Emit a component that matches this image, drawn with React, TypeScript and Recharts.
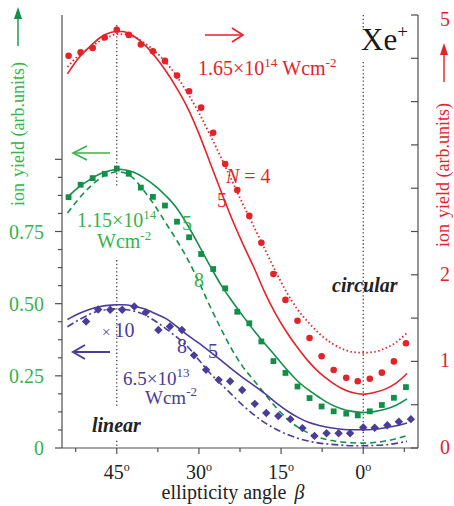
import { ComposedChart, Line, Scatter, XAxis, YAxis, ReferenceLine } from "recharts"

const W = 454
const H = 506
const SERIF = "'Liberation Serif', 'Times New Roman', serif"

const RED = "#e3222a"
const GREEN = "#12904a"
const GREEN_LIGHT = "#36b34a"
const PURPLE = "#4a3c98"
const AXIS = "#4f4f4f"
const GUIDE = "#333333"

// measured Xe+ yields, ellipticity angle in degrees
const betaMeasured = [53.8, 51.6, 49.4, 47.2, 45.0, 42.8, 40.6, 38.4, 36.2, 34.0, 31.8, 29.6, 27.4, 25.2, 23.0, 20.8, 18.6, 16.4, 14.2, 12.0, 9.8, 7.6, 5.4, 3.1, 1.0, -1.2, -3.4, -5.6, -7.8]
// 1.65e14 W/cm2 (right axis)
const yieldHigh = [4.53, 4.57, 4.62, 4.74, 4.83, 4.77, 4.66, 4.58, 4.47, 4.30, 4.12, 3.93, 3.64, 3.28, 2.98, 2.68, 2.37, 2.01, 1.71, 1.47, 1.27, 1.06, 0.90, 0.81, 0.77, 0.80, 0.87, 1.00, 1.21]
// 1.15e14 W/cm2 (left axis)
const yieldMid = [0.869, 0.912, 0.935, 0.950, 0.968, 0.950, 0.902, 0.870, 0.840, 0.784, 0.730, 0.672, 0.620, 0.553, 0.472, 0.432, 0.369, 0.301, 0.260, 0.213, 0.173, 0.144, 0.127, 0.119, 0.113, 0.127, 0.149, 0.174, 0.211]
// 6.5e13 W/cm2, scaled x10 (left axis)
const betaLow = [50.6, 48.4, 46.2, 44.0, 41.8, 39.7, 37.4, 35.3, 33.1, 30.9, 28.7, 26.4, 24.3, 22.1, 19.8, 17.7, 15.5, 13.3, 11.1, 8.9, 6.7, 4.5, 2.4, 0.0, -2.1, -4.4, -6.5, -8.7]
const yieldLow = [0.438, 0.480, 0.479, 0.479, 0.490, 0.470, 0.409, 0.421, 0.409, 0.321, 0.271, 0.236, 0.231, 0.201, 0.153, 0.121, 0.111, 0.100, 0.069, 0.042, 0.051, 0.051, 0.051, 0.071, 0.070, 0.079, 0.091, 0.100]

// calculated curves for N-photon ionization
const betaCalc = [54, 52, 50, 48, 46, 45, 44, 42, 40, 38, 36, 34, 32, 30, 28, 26, 24, 22, 20, 18, 16, 14, 12, 10, 8, 6, 4, 2, 0, -2, -4, -6, -8]
const calcHigh5 = [4.32, 4.50, 4.63, 4.74, 4.80, 4.81, 4.81, 4.76, 4.66, 4.52, 4.35, 4.15, 3.92, 3.63, 3.30, 2.97, 2.65, 2.36, 2.09, 1.80, 1.55, 1.34, 1.16, 1.00, 0.87, 0.77, 0.69, 0.64, 0.62, 0.64, 0.68, 0.75, 0.86]
const calcHigh4 = [4.40, 4.53, 4.62, 4.70, 4.76, 4.78, 4.78, 4.75, 4.68, 4.58, 4.45, 4.29, 4.09, 3.87, 3.62, 3.36, 3.09, 2.82, 2.56, 2.30, 2.04, 1.80, 1.60, 1.45, 1.32, 1.22, 1.15, 1.11, 1.10, 1.11, 1.15, 1.22, 1.33]
const calcMid5 = [0.869, 0.903, 0.929, 0.950, 0.962, 0.966, 0.965, 0.956, 0.936, 0.908, 0.873, 0.830, 0.770, 0.702, 0.632, 0.566, 0.510, 0.458, 0.408, 0.362, 0.318, 0.273, 0.232, 0.201, 0.175, 0.152, 0.136, 0.127, 0.123, 0.126, 0.134, 0.148, 0.170]
const calcMid8 = [0.814, 0.862, 0.903, 0.935, 0.953, 0.957, 0.955, 0.935, 0.890, 0.838, 0.778, 0.718, 0.652, 0.575, 0.492, 0.414, 0.342, 0.282, 0.235, 0.188, 0.142, 0.103, 0.073, 0.052, 0.036, 0.027, 0.021, 0.018, 0.017, 0.019, 0.024, 0.032, 0.043]
const calcLow5 = [0.445, 0.465, 0.480, 0.490, 0.495, 0.496, 0.496, 0.492, 0.482, 0.466, 0.448, 0.420, 0.390, 0.363, 0.334, 0.304, 0.273, 0.244, 0.217, 0.189, 0.158, 0.130, 0.107, 0.089, 0.078, 0.070, 0.065, 0.063, 0.063, 0.065, 0.070, 0.077, 0.087]
const calcLow8 = [0.420, 0.443, 0.463, 0.476, 0.481, 0.482, 0.481, 0.475, 0.462, 0.440, 0.413, 0.383, 0.350, 0.305, 0.260, 0.222, 0.185, 0.148, 0.116, 0.088, 0.066, 0.048, 0.034, 0.024, 0.017, 0.013, 0.010, 0.008, 0.008, 0.009, 0.011, 0.016, 0.023]

const betaTicks = [52.5, 45, 37.5, 30, 22.5, 15, 7.5, 0, -7.5]
const leftTicks = [0, 0.0625, 0.125, 0.1875, 0.25, 0.3125, 0.375, 0.4375, 0.5, 0.5625, 0.625, 0.6875, 0.75, 0.8125, 0.875, 0.9375, 1]
const leftLabels = ["0", "0.25", "0.50", "0.75"]
const rightTicks = [0, 0.5, 1, 1.5, 2, 2.5, 3, 3.5, 4, 4.5, 5]
const rightLabels = [0, 1, 2, 5]

const curveRows = betaCalc.map((beta, i) => ({
  beta,
  high5: calcHigh5[i],
  high4: calcHigh4[i],
  mid5: calcMid5[i],
  mid8: calcMid8[i],
  low5: calcLow5[i],
  low8: calcLow8[i],
}))
const highPoints = betaMeasured.map((beta, i) => ({ beta, v: yieldHigh[i] }))
const midPoints = betaMeasured.map((beta, i) => ({ beta, v: yieldMid[i] }))
const lowPoints = betaLow.map((beta, i) => ({ beta, v: yieldLow[i] }))

const BetaTick = ({ x, y, payload }: any) => {
  const major = payload.value % 15 === 0
  return (
    <g>
      <line x1={x} y1={y} x2={x} y2={y + (major ? 6 : 4)} stroke={AXIS} strokeWidth={1.2} />
      {major && (
        <text x={x} y={y + 31} textAnchor="middle" fontFamily={SERIF} fontSize={20} fill="#222">
          {Math.abs(payload.value)}
          <tspan dy={-8} fontSize={12}>o</tspan>
        </text>
      )}
    </g>
  )
}

const LeftTick = ({ x, y, payload }: any) => {
  const v = payload.value
  const idx = Math.round(v * 4)
  const major = Math.abs(v * 4 - idx) < 1e-6
  return (
    <g>
      <line x1={x - (major ? 7 : 4)} y1={y} x2={x} y2={y} stroke={AXIS} strokeWidth={1.2} />
      {major && idx < leftLabels.length && (
        <text x={x - 18} y={y + 7} textAnchor="end" fontFamily={SERIF} fontSize={20} fill={GREEN_LIGHT}>
          {leftLabels[idx]}
        </text>
      )}
    </g>
  )
}

const RightTick = ({ x, y, payload }: any) => {
  const v = payload.value
  return (
    <g>
      <line x1={x - 7} y1={y} x2={x} y2={y} stroke={AXIS} strokeWidth={1.2} />
      {rightLabels.includes(v) && (
        <text x={x + 27} y={y + (v === 5 ? 11 : 6)} textAnchor="middle" fontFamily={SERIF} fontSize={20} fill={RED}>
          {v}
        </text>
      )}
    </g>
  )
}

const RedDot = ({ cx, cy }: any) => <circle cx={cx} cy={cy} r={3.3} fill={RED} />
const GreenSquare = ({ cx, cy }: any) => <rect x={cx - 2.9} y={cy - 2.9} width={5.8} height={5.8} fill={GREEN} />
const PurpleDiamond = ({ cx, cy }: any) => (
  <path d={`M${cx} ${cy - 4.2}L${cx + 4.2} ${cy}L${cx} ${cy + 4.2}L${cx - 4.2} ${cy}Z`} fill={PURPLE} />
)

function Annotations() {
  const sup = { dy: -8, fontSize: 13 }
  return (
    <svg
      width={W}
      height={H}
      style={{ position: "absolute", left: 0, top: 0, pointerEvents: "none" }}
      fontFamily={SERIF}
    >
      {/* axis titles with arrows */}
      <text x={18} y={134} transform="rotate(-90 18 134)" textAnchor="middle" dominantBaseline="central" fontSize={18} fill={GREEN_LIGHT}>
        ion<tspan dx={6}>yield (arb.units)</tspan>
      </text>
      <line x1={18} y1={46} x2={18} y2={17} stroke={GREEN} strokeWidth={1.4} />
      <path d="M18 7L14 19L22 19Z" fill={GREEN} />

      <text x={443} y={175} transform="rotate(-90 443 175)" textAnchor="middle" dominantBaseline="central" fontSize={18} fill={RED}>
        ion<tspan dx={6}>yield (arb.units)</tspan>
      </text>
      <line x1={444} y1={82} x2={444} y2={53} stroke={RED} strokeWidth={1.4} />
      <path d="M444 43L440 55L448 55Z" fill={RED} />

      {/* red set */}
      <line x1={205} y1={35} x2={242} y2={35} stroke={RED} strokeWidth={1.6} />
      <polyline points="232,28 243,35 232,42" fill="none" stroke={RED} strokeWidth={1.6} />
      <text x={198} y={75} fontSize={20} fill={RED}>
        1.65×10<tspan {...sup}>14</tspan>
        <tspan dx={5} dy={8}>Wcm</tspan>
        <tspan {...sup}>-2</tspan>
      </text>
      <text x={361} y={50} fontSize={31} fill="#1a1a1a">
        Xe<tspan dy={-12} fontSize={19}>+</tspan>
      </text>
      <text x={226} y={183} fontSize={20} fill={RED}>
        <tspan fontStyle="italic">N</tspan> = 4
      </text>
      <text x={217} y={207} fontSize={20} fill={RED}>5</text>

      {/* green set */}
      <line x1={74} y1={153} x2={110} y2={153} stroke={GREEN_LIGHT} strokeWidth={1.6} />
      <polyline points="87,146 73,153 87,160" fill="none" stroke={GREEN_LIGHT} strokeWidth={1.6} />
      <text x={77} y={227} fontSize={20} fill={GREEN_LIGHT}>
        1.15×10<tspan {...sup}>14</tspan>
      </text>
      <text x={97} y={248} fontSize={20} fill={GREEN_LIGHT}>
        Wcm<tspan {...sup}>-2</tspan>
      </text>
      <text x={182} y={230} fontSize={20} fill={GREEN_LIGHT}>5</text>
      <text x={194} y={287} fontSize={20} fill={GREEN_LIGHT}>8</text>

      {/* purple set */}
      <line x1={75} y1={352} x2={110} y2={352} stroke={PURPLE} strokeWidth={2} />
      <polyline points="85,345 73,352 85,359" fill="none" stroke={PURPLE} strokeWidth={2} />
      <text x={102} y={337} fontSize={15} fill={PURPLE}>
        ×<tspan dx={4} fontSize={20}>10</tspan>
      </text>
      <text x={177} y={353} fontSize={20} fill={PURPLE}>8</text>
      <text x={208} y={358} fontSize={20} fill={PURPLE}>5</text>
      <text x={123} y={385} fontSize={19} fill={PURPLE}>
        6.5×10<tspan {...sup}>13</tspan>
      </text>
      <text x={145} y={404} fontSize={19} fill={PURPLE}>
        Wcm<tspan {...sup}>-2</tspan>
      </text>

      {/* polarization labels */}
      <text x={92} y={432} fontSize={20} fontWeight="bold" fontStyle="italic" fill="#222">linear</text>
      <text x={332} y={292} fontSize={20} fontWeight="bold" fontStyle="italic" fill="#222">circular</text>

      <text x={233} y={499} textAnchor="middle" fontSize={20} fill="#222">
        ellipticity angle<tspan dx={8} fontStyle="italic">β</tspan>
      </text>
    </svg>
  )
}

export default function App() {
  return (
    <div style={{ position: "absolute", left: 0, top: 0, width: W, height: H, background: "#fff" }}>
      <ComposedChart width={W} height={H} data={curveRows} margin={{ top: 15, right: 0, bottom: 0, left: 0 }}>
        <XAxis
          xAxisId="b"
          type="number"
          dataKey="beta"
          domain={[-10, 55]}
          reversed
          allowDataOverflow
          ticks={betaTicks}
          interval={0}
          height={58}
          tickSize={0}
          tickMargin={0}
          tickLine={false}
          tick={BetaTick}
          axisLine={{ stroke: AXIS, strokeWidth: 1.2 }}
        />
        <XAxis
          xAxisId="t"
          orientation="top"
          type="number"
          dataKey="beta"
          domain={[-10, 55]}
          reversed
          height={0}
          tick={false}
          tickLine={false}
          axisLine={{ stroke: AXIS, strokeWidth: 1.2 }}
        />
        <YAxis
          yAxisId="left"
          type="number"
          domain={[0, 1.5]}
          allowDataOverflow
          ticks={leftTicks}
          interval={0}
          width={62}
          tickSize={0}
          tickMargin={0}
          tickLine={false}
          tick={LeftTick}
          axisLine={{ stroke: AXIS, strokeWidth: 1.2 }}
        />
        <YAxis
          yAxisId="right"
          orientation="right"
          type="number"
          domain={[0, 5]}
          allowDataOverflow
          ticks={rightTicks}
          interval={0}
          width={36}
          tickSize={0}
          tickMargin={0}
          tickLine={false}
          tick={RightTick}
          axisLine={{ stroke: AXIS, strokeWidth: 1.2 }}
        />

        {/* linear and circular polarization guides */}
        <ReferenceLine xAxisId="b" yAxisId="left" segment={[{ x: 45, y: 1.465 }, { x: 45, y: 0.901 }]} stroke={GUIDE} strokeDasharray="1.3 2.4" strokeWidth={1.2} />
        <ReferenceLine xAxisId="b" yAxisId="left" segment={[{ x: 45, y: 0.651 }, { x: 45, y: 0.144 }]} stroke={GUIDE} strokeDasharray="1.3 2.4" strokeWidth={1.2} />
        <ReferenceLine xAxisId="b" yAxisId="left" segment={[{ x: 45, y: 0.025 }, { x: 45, y: 0 }]} stroke={GUIDE} strokeDasharray="1.3 2.4" strokeWidth={1.2} />
        <ReferenceLine xAxisId="b" yAxisId="left" segment={[{ x: 0, y: 1.5 }, { x: 0, y: 1.455 }]} stroke={GUIDE} strokeDasharray="1.3 2.4" strokeWidth={1.2} />
        <ReferenceLine xAxisId="b" yAxisId="left" segment={[{ x: 0, y: 1.337 }, { x: 0, y: 0 }]} stroke={GUIDE} strokeDasharray="1.3 2.4" strokeWidth={1.2} />

        <Line xAxisId="b" yAxisId="right" type="monotone" dataKey="high5" stroke={RED} strokeWidth={1.6} dot={false} isAnimationActive={false} />
        <Line xAxisId="b" yAxisId="right" type="monotone" dataKey="high4" stroke={RED} strokeWidth={1.8} strokeDasharray="1.5 2.5" dot={false} isAnimationActive={false} />
        <Line xAxisId="b" yAxisId="left" type="monotone" dataKey="mid5" stroke={GREEN} strokeWidth={1.6} dot={false} isAnimationActive={false} />
        <Line xAxisId="b" yAxisId="left" type="monotone" dataKey="mid8" stroke={GREEN} strokeWidth={1.6} strokeDasharray="6 4" dot={false} isAnimationActive={false} />
        <Line xAxisId="b" yAxisId="left" type="monotone" dataKey="low5" stroke={PURPLE} strokeWidth={1.6} dot={false} isAnimationActive={false} />
        <Line xAxisId="b" yAxisId="left" type="monotone" dataKey="low8" stroke={PURPLE} strokeWidth={1.6} strokeDasharray="7 3 2 3" dot={false} isAnimationActive={false} />

        <Scatter xAxisId="b" yAxisId="right" data={highPoints} dataKey="v" shape={RedDot} isAnimationActive={false} />
        <Scatter xAxisId="b" yAxisId="left" data={midPoints} dataKey="v" shape={GreenSquare} isAnimationActive={false} />
        <Scatter xAxisId="b" yAxisId="left" data={lowPoints} dataKey="v" shape={PurpleDiamond} isAnimationActive={false} />
      </ComposedChart>
      <Annotations />
    </div>
  )
}
